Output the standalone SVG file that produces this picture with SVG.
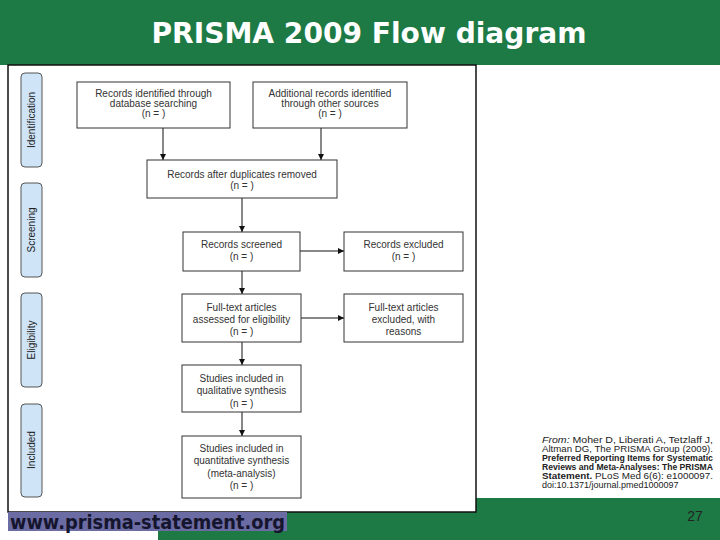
<svg xmlns="http://www.w3.org/2000/svg" width="720" height="540" viewBox="0 0 720 540">
<style>
.box{fill:#fff;stroke:#333;stroke-width:1}
.bt{font-family:"Liberation Sans",Arial,sans-serif;font-size:10px;fill:#333;text-anchor:middle}
.stage{fill:#cfe5f7;stroke:#555;stroke-width:1}
.st{font-family:"Liberation Sans",Arial,sans-serif;font-size:10px;fill:#222;text-anchor:middle}
.cn{stroke:#111;stroke-width:1;fill:none;marker-end:url(#ah)}
.cit{font-family:"Liberation Sans",Arial,sans-serif;font-size:9px;fill:#222}
</style>
<defs>
<marker id="ah" viewBox="0 0 6 6" refX="6" refY="3" markerWidth="6" markerHeight="6" orient="auto" markerUnits="userSpaceOnUse">
<path d="M0,0 L6,3 L0,6 z" fill="#111"/>
</marker>
</defs>
<rect x="0" y="0" width="720" height="540" fill="#fff"/>
<rect x="0" y="0" width="720" height="65" fill="#1d7a45"/>
<text x="369" y="43" font-family="DejaVu Sans,Verdana,sans-serif" font-weight="bold" font-size="28" fill="#fff" text-anchor="middle" textLength="435" lengthAdjust="spacingAndGlyphs">PRISMA 2009 Flow diagram</text>
<rect x="158" y="498" width="562" height="42" fill="#1d7a45"/>
<rect x="8" y="65" width="468" height="447" fill="#fff" stroke="#111" stroke-width="1.5"/>

<g id="stages">
<g id="stage-identification"><rect class="stage" x="21" y="73" width="21" height="94" rx="4"/><text class="st" transform="translate(35,120) rotate(-90)">Identification</text></g>
<g id="stage-screening"><rect class="stage" x="21" y="183" width="21" height="94" rx="4"/><text class="st" transform="translate(35,230) rotate(-90)">Screening</text></g>
<g id="stage-eligibility"><rect class="stage" x="21" y="293" width="21" height="94" rx="4"/><text class="st" transform="translate(35,340) rotate(-90)">Eligibility</text></g>
<g id="stage-included"><rect class="stage" x="21" y="404" width="21" height="93" rx="4"/><text class="st" transform="translate(35,450) rotate(-90)">Included</text></g>
</g>

<g id="connectors">
<line class="cn" x1="163" y1="128" x2="163" y2="160"/>
<line class="cn" x1="321" y1="128" x2="321" y2="160"/>
<line class="cn" x1="242" y1="198" x2="242" y2="232"/>
<line class="cn" x1="300" y1="251" x2="344" y2="251"/>
<line class="cn" x1="242" y1="271" x2="242" y2="294"/>
<line class="cn" x1="301" y1="318" x2="344" y2="318"/>
<line class="cn" x1="242" y1="342" x2="242" y2="365"/>
<line class="cn" x1="242" y1="412" x2="242" y2="436"/>
</g>

<g id="n1"><rect class="box" x="77" y="82" width="153" height="46"/>
<text class="bt" x="153.5" y="96.5">Records identified through</text>
<text class="bt" x="153.5" y="106.5">database searching</text>
<text class="bt" x="153.5" y="116.5">(n =  )</text></g>
<g id="n2"><rect class="box" x="253" y="82" width="154" height="46"/>
<text class="bt" x="330" y="96.5">Additional records identified</text>
<text class="bt" x="330" y="106.5">through other sources</text>
<text class="bt" x="330" y="116.5">(n =  )</text></g>
<g id="n3"><rect class="box" x="147" y="160" width="190" height="38"/>
<text class="bt" x="242" y="177.5">Records after duplicates removed</text>
<text class="bt" x="242" y="188.5">(n =  )</text></g>
<g id="n4"><rect class="box" x="183" y="232" width="117" height="39"/>
<text class="bt" x="241.5" y="247.5">Records screened</text>
<text class="bt" x="241.5" y="260">(n =  )</text></g>
<g id="n5"><rect class="box" x="344" y="232" width="119" height="39"/>
<text class="bt" x="403.5" y="247.5">Records excluded</text>
<text class="bt" x="403.5" y="260">(n =  )</text></g>
<g id="n6"><rect class="box" x="182" y="294" width="119" height="48"/>
<text class="bt" x="241.5" y="310.5">Full-text articles</text>
<text class="bt" x="241.5" y="322.5">assessed for eligibility</text>
<text class="bt" x="241.5" y="334.5">(n =  )</text></g>
<g id="n7"><rect class="box" x="344" y="294" width="119" height="48"/>
<text class="bt" x="403.5" y="310.5">Full-text articles</text>
<text class="bt" x="403.5" y="322.5">excluded, with</text>
<text class="bt" x="403.5" y="334.5">reasons</text></g>
<g id="n8"><rect class="box" x="182" y="365" width="119" height="47"/>
<text class="bt" x="241.5" y="381.5">Studies included in</text>
<text class="bt" x="241.5" y="394">qualitative synthesis</text>
<text class="bt" x="241.5" y="406.5">(n =  )</text></g>
<g id="n9"><rect class="box" x="182" y="436" width="119" height="62"/>
<text class="bt" x="241.5" y="451.5">Studies included in</text>
<text class="bt" x="241.5" y="464">quantitative synthesis</text>
<text class="bt" x="241.5" y="476.5">(meta-analysis)</text>
<text class="bt" x="241.5" y="489">(n =  )</text></g>

<g id="citation">
<text class="cit" x="542" y="443" textLength="171" lengthAdjust="spacingAndGlyphs"><tspan font-style="italic">From:</tspan>  Moher D, Liberati A, Tetzlaff J,</text>
<text class="cit" x="542" y="452" textLength="171" lengthAdjust="spacingAndGlyphs">Altman DG, The PRISMA Group (2009).</text>
<text class="cit" x="542" y="461" font-weight="bold" textLength="171" lengthAdjust="spacingAndGlyphs">Preferred Reporting Items for Systematic</text>
<text class="cit" x="542" y="470" font-weight="bold" textLength="171" lengthAdjust="spacingAndGlyphs">Reviews and Meta-Analyses: The PRISMA</text>
<text class="cit" x="542" y="479" textLength="171" lengthAdjust="spacingAndGlyphs"><tspan font-weight="bold">Statement.</tspan> PLoS Med 6(6): e1000097.</text>
<text class="cit" x="542" y="488">doi:10.1371/journal.pmed1000097</text>
</g>

<rect x="8" y="512" width="279" height="19" fill="#6c6ca4"/>
<text x="10" y="529" font-family="DejaVu Sans,Verdana,sans-serif" font-weight="bold" font-size="20" fill="#15152e" textLength="275" lengthAdjust="spacingAndGlyphs">www.prisma-statement.org</text>
<text x="695" y="521" font-family="Liberation Sans,Arial,sans-serif" font-size="14" fill="#222" text-anchor="middle">27</text>
</svg>
